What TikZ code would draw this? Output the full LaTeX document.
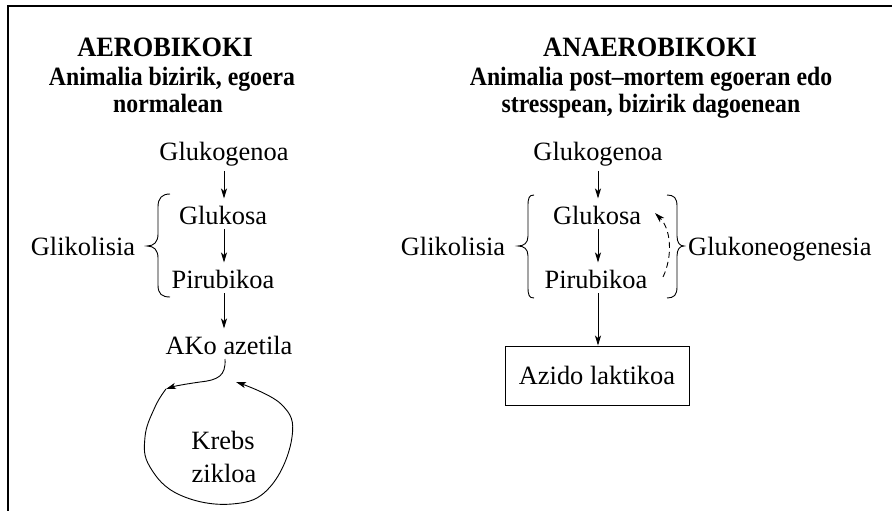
\documentclass[tikz,border=0pt]{standalone}
\usepackage{fontspec}
\setmainfont{Liberation Serif}
\newfontfamily\subfont[FakeStretch=0.9]{Liberation Serif}
\newfontfamily\titfont[FakeStretch=0.94]{Liberation Serif}
\usetikzlibrary{arrows.meta}
\begin{document}
\begin{tikzpicture}[x=1pt,y=-1pt,
  every node/.style={font=\fontsize{26.4}{28}\selectfont, inner sep=2pt},
  head/.style={anchor=base, font=\titfont\fontsize{28}{28}\selectfont\bfseries},
  subhead/.style={anchor=base, font=\subfont\fontsize{26.4}{28}\selectfont\bfseries},
  txt/.style={anchor=base},
  tip/.style={-{Stealth[length=10pt,width=6pt,inset=2.5pt]}},
  arr/.style={tip, line width=0.9pt, shorten <=3pt, shorten >=5pt},
  brc/.style={line width=0.9pt},
  dasharr/.style={tip, line width=0.9pt, dash pattern=on 6pt off 4pt}]
\useasboundingbox (0,0) rectangle (892,511);
\draw[line width=1.5pt] (8,511) -- (8,6) -- (892,6);
% headings
\node[head] (lh1) at (165,57) {AEROBIKOKI};
\node[subhead] (lh2) at (172,85) {Animalia bizirik, egoera};
\node[subhead] (lh3) at (168,113) {normalean};
\node[head] (rh1) at (650,57) {ANAEROBIKOKI};
\node[subhead] (rh2) at (651,85) {Animalia post–mortem egoeran edo};
\node[subhead] (rh3) at (651,113) {stresspean, bizirik dagoenean};
% left column
\node[txt] (lglg) at (224,160) {Glukogenoa};
\node[txt] (lglu) at (223,224) {Glukosa};
\node[txt] (lpir) at (223,288) {Pirubikoa};
\node[txt] (lgli) at (83,255) {Glikolisia};
\node[txt] (lako) at (229,354) {AKo azetila};
\node[txt] (krebs) at (223,449) {Krebs};
\node[txt] (zik) at (224,482) {zikloa};
\draw[arr] (lglg.south) -- (lglg.south |- lglu.north);
\draw[arr] (lglg.south |- lglu.south) -- (lglg.south |- lpir.north);
\draw[arr] (lglg.south |- lpir.south) -- (lglg.south |- lako.north);
\draw[brc] (170,194) .. controls (162,194) and (158,198) .. (158,207) -- (158,234)
  .. controls (158,242) and (154,246) .. (147,246)
  .. controls (154,246) and (158,250) .. (158,258) -- (158,285)
  .. controls (158,294) and (162,297) .. (170,297);
% Krebs loop
\coordinate (k0) at (225,359);
\coordinate (k1) at (166,389);
\coordinate (k2) at (236,382);
\draw[tip, line width=0.9pt] (k0) .. controls (226,376) and (218,380) .. (200,382)
  .. controls (186,384) and (175,386) .. (k1);
\draw[tip, line width=0.9pt] plot[smooth, tension=0.7] coordinates
  {(k1) (155,407) (145,437) (150,467) (180,495) (232,504) (270,487) (292,437) (281,404) (k2)};
% right column
\node[txt] (rglg) at (598,160) {Glukogenoa};
\node[txt] (rglu) at (597,224) {Glukosa};
\node[txt] (rpir) at (596,288) {Pirubikoa};
\node[txt] (rgli) at (453,255) {Glikolisia};
\node[txt, anchor=base west] (rneo) at (686,255) {Glukoneogenesia};
\node[draw, line width=0.9pt, minimum width=184pt, minimum height=59pt] (box) at (597,375.5) {Azido laktikoa};
\draw[arr] (rglg.south) -- (rglg.south |- rglu.north);
\draw[arr] (rglg.south |- rglu.south) -- (rglg.south |- rpir.north);
\draw[arr, shorten >=0pt] (rglg.south |- rpir.south) -- (rglg.south |- box.north);
\draw[brc] (534,195) .. controls (529,195) and (528,198) .. (528,206) -- (528,236)
  .. controls (528,243) and (524,246) .. (518,246)
  .. controls (524,246) and (528,249) .. (528,256) -- (528,287)
  .. controls (528,295) and (529,298) .. (534,298);
\draw[brc] (667,195) .. controls (674,195) and (677,198) .. (677,206) -- (677,236)
  .. controls (677,243) and (680,246) .. (684,246)
  .. controls (680,246) and (677,249) .. (677,256) -- (677,287)
  .. controls (677,295) and (674,298) .. (667,298);
\coordinate (d0) at (663,277);
\coordinate (d1) at (655,213);
\draw[dasharr] (d0) .. controls (673,256) and (671,229) .. (d1);
\end{tikzpicture}
\end{document}
